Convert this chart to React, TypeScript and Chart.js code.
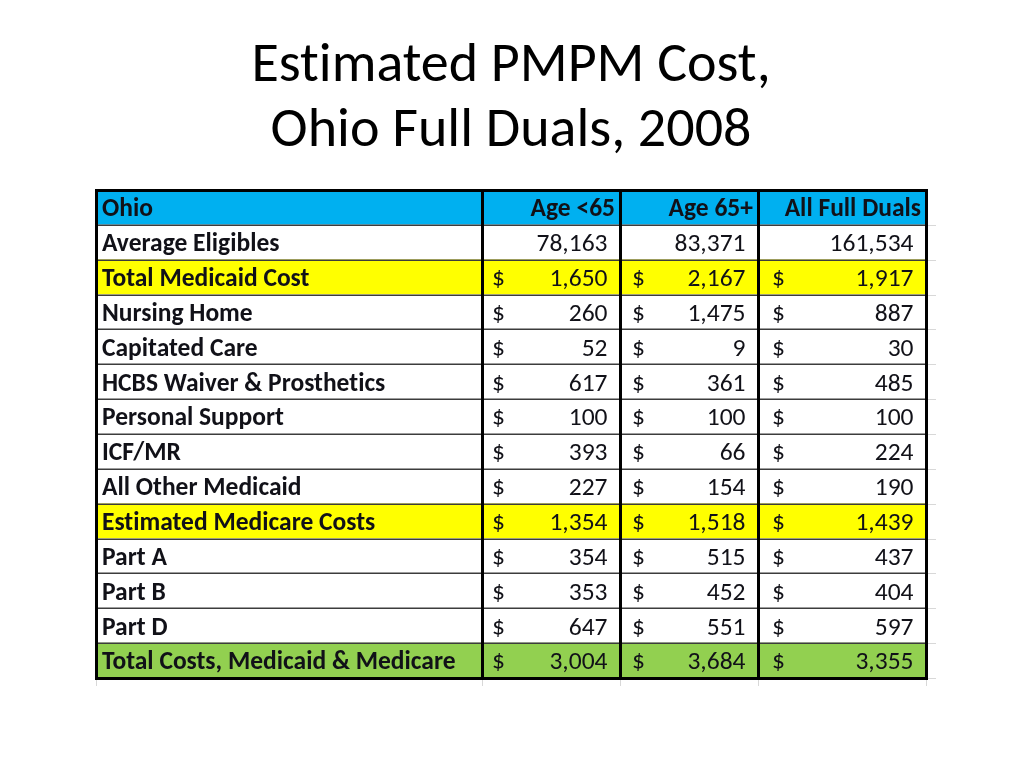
import React, { useEffect, useRef } from 'react';
import { Chart, registerables } from 'chart.js';

Chart.register(...registerables);

// ---- data ----
const titleLines = ['Estimated PMPM Cost,', 'Ohio Full Duals, 2008'];
const cornerLabel = 'Ohio';
const columnHeaders = ['Age <65', 'Age 65+', 'All Full Duals'];
const rowLabels = [
  'Average Eligibles',
  'Total Medicaid Cost',
  'Nursing Home',
  'Capitated Care',
  'HCBS Waiver & Prosthetics',
  'Personal Support',
  'ICF/MR',
  'All Other Medicaid',
  'Estimated Medicare Costs',
  'Part A',
  'Part B',
  'Part D',
  'Total Costs, Medicaid & Medicare',
];
const ageUnder65 = [78163, 1650, 260, 52, 617, 100, 393, 227, 1354, 354, 353, 647, 3004];
const age65Plus = [83371, 2167, 1475, 9, 361, 100, 66, 154, 1518, 515, 452, 551, 3684];
const allFullDuals = [161534, 1917, 887, 30, 485, 100, 224, 190, 1439, 437, 404, 597, 3355];
// rows that are counts (no dollar sign)
const countRows = ['Average Eligibles'];
// subtotal / total rows
const subtotalRows = ['Total Medicaid Cost', 'Estimated Medicare Costs'];
const totalRows = ['Total Costs, Medicaid & Medicare'];

// ---- layout / style ----
const colEdges = [0, 386, 524, 662, 830];
const dollarOffsets = [10, 12, 14];
const HEADER_BG = '#00B0F0';
const SUBTOTAL_BG = '#FFFF00';
const TOTAL_BG = '#92D050';
const PLAIN_BG = '#FFFFFF';
const TEXT = '#111118';
const FONT_FAMILY = 'Carlito, Calibri, Lato, sans-serif';
const CELL_SIZE = 25.5;

const allRows = [cornerLabel, ...rowLabels];
const columnValues = [ageUnder65, age65Plus, allFullDuals];

function rowColor(label: string, i: number): string {
  if (i === 0) return HEADER_BG;
  if (subtotalRows.includes(label)) return SUBTOTAL_BG;
  if (totalRows.includes(label)) return TOTAL_BG;
  return PLAIN_BG;
}

const noLigaturePlugin = {
  id: 'noLigatures',
  beforeDraw(chart: any) {
    try {
      (chart.ctx as any).letterSpacing = '0.01px';
    } catch (e) {
      /* ignore */
    }
  },
};

const tablePlugin = {
  id: 'tableDraw',
  afterDatasetsDraw(chart: any) {
    const { ctx, chartArea, scales } = chart;
    const x = scales.x;
    const y = scales.y;
    const n = allRows.length;
    const band = (chartArea.bottom - chartArea.top) / n;
    const rowTop = (i: number) => y.getPixelForValue(i) - band / 2;
    const rowMid = (i: number) => y.getPixelForValue(i);
    const colX = (c: number) => x.getPixelForValue(colEdges[c]);
    ctx.save();
    try {
      (ctx as any).letterSpacing = '0.01px';
    } catch (e) {
      /* ignore */
    }
    // faint spreadsheet gridlines outside the table
    ctx.strokeStyle = '#d8d8d8';
    ctx.lineWidth = 1;
    for (let i = 1; i <= n; i++) {
      const yy = Math.round(i === n ? chartArea.bottom : rowTop(i)) + 0.5;
      ctx.beginPath();
      ctx.moveTo(colX(4), yy);
      ctx.lineTo(colX(4) + 10, yy);
      ctx.stroke();
    }
    for (let c = 0; c <= 4; c++) {
      const xx = Math.round(colX(c)) + 0.5;
      ctx.beginPath();
      ctx.moveTo(xx, chartArea.bottom);
      ctx.lineTo(xx, chartArea.bottom + 8);
      ctx.stroke();
    }
    // horizontal lines
    ctx.strokeStyle = '#3c3c3c';
    ctx.lineWidth = 1.5;
    for (let i = 1; i < n; i++) {
      const yy = Math.round(rowTop(i)) + 0.25;
      ctx.beginPath();
      ctx.moveTo(colX(0), yy);
      ctx.lineTo(colX(4), yy);
      ctx.stroke();
    }
    // vertical thick lines
    ctx.strokeStyle = '#000';
    ctx.lineWidth = 3;
    for (let c = 1; c < 4; c++) {
      const xx = Math.round(colX(c)) + 0.5;
      ctx.beginPath();
      ctx.moveTo(xx, chartArea.top);
      ctx.lineTo(xx, chartArea.bottom);
      ctx.stroke();
    }
    ctx.strokeRect(
      Math.round(colX(0)) + 0.5,
      Math.round(chartArea.top) + 0.5,
      Math.round(colX(4) - colX(0)),
      Math.round(chartArea.bottom - chartArea.top)
    );
    // text
    ctx.fillStyle = TEXT;
    ctx.textBaseline = 'middle';
    const boldFont = `bold ${CELL_SIZE}px ${FONT_FAMILY}`;
    const regFont = `${CELL_SIZE}px ${FONT_FAMILY}`;
    const dy = 2.5;
    // header row
    ctx.font = boldFont;
    ctx.textAlign = 'left';
    ctx.fillText(cornerLabel, colX(0) + 6, rowMid(0) + dy);
    ctx.textAlign = 'right';
    columnHeaders.forEach((h, c) => {
      ctx.fillText(h, colX(c + 2) - 5, rowMid(0) + dy);
    });
    // body rows
    rowLabels.forEach((label, r) => {
      const i = r + 1;
      const ym = rowMid(i) + dy;
      ctx.font = boldFont;
      ctx.textAlign = 'left';
      ctx.fillText(label, colX(0) + 6, ym);
      ctx.font = regFont;
      columnValues.forEach((vals, c) => {
        const v = vals[r];
        ctx.textAlign = 'right';
        ctx.fillText(v.toLocaleString('en-US'), colX(c + 2) - 12.5, ym);
        if (!countRows.includes(label)) {
          ctx.textAlign = 'left';
          ctx.fillText('$', colX(c + 1) + dollarOffsets[c], ym);
        }
      });
    });
    ctx.restore();
  },
};

export default function App() {
  const canvasRef = useRef<HTMLCanvasElement | null>(null);
  useEffect(() => {
    const canvas = canvasRef.current;
    if (!canvas) return;
    const datasets = [0, 1, 2, 3].map((c) => ({
      label: c === 0 ? cornerLabel : columnHeaders[c - 1],
      data: allRows.map(() => [colEdges[c], colEdges[c + 1]] as [number, number]),
      backgroundColor: allRows.map((l, i) => rowColor(l, i)),
      borderWidth: 0,
      barPercentage: 1,
      categoryPercentage: 1,
      grouped: false,
    }));
    const chart = new Chart(canvas, {
      type: 'bar',
      data: { labels: allRows, datasets: datasets as any },
      options: {
        indexAxis: 'y',
        animation: false,
        responsive: false,
        devicePixelRatio: 1,
        layout: { padding: { left: 96, right: 98, top: 0, bottom: 90 } },
        scales: {
          x: { type: 'linear', min: colEdges[0], max: colEdges[colEdges.length - 1], display: false },
          y: { type: 'category', display: false, offset: true },
        },
        plugins: {
          legend: { display: false },
          tooltip: { enabled: false },
          title: {
            display: true,
            text: titleLines,
            color: '#000',
            font: { family: FONT_FAMILY, size: 56, weight: 'normal', lineHeight: 1.17 },
            padding: { top: 34, bottom: 25 },
          },
        },
      } as any,
      plugins: [noLigaturePlugin, tablePlugin],
    });
    return () => chart.destroy();
  }, []);
  return (
    <div style={{ position: 'fixed', left: 0, top: 0, width: 1024, height: 768, background: '#fff' }}>
      <canvas ref={canvasRef} width={1024} height={768} style={{ display: 'block' }} />
    </div>
  );
}
